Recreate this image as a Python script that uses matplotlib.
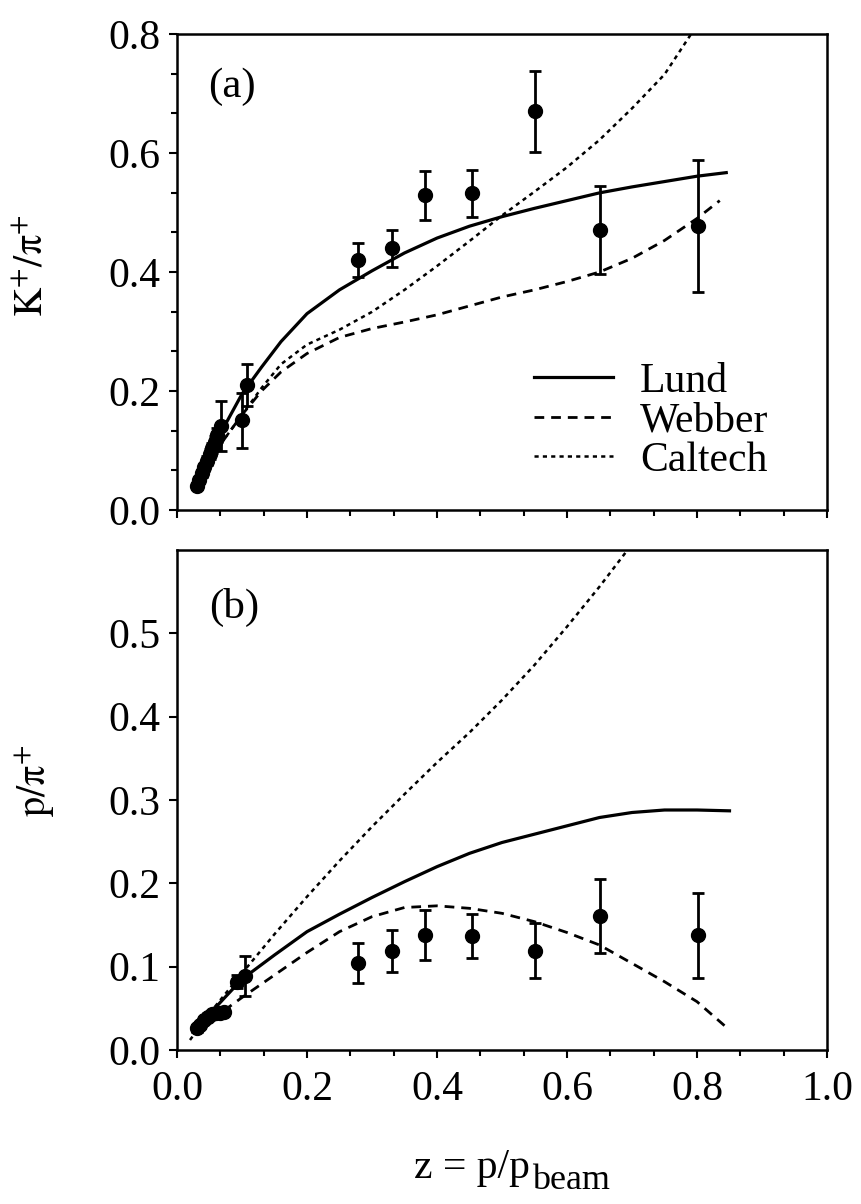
import matplotlib
matplotlib.use("Agg")
import matplotlib.pyplot as plt
from matplotlib.ticker import FixedLocator
import numpy as np

plt.rcParams['font.family'] = ['Liberation Serif', 'DejaVu Serif']
plt.rcParams['mathtext.fontset'] = 'stix'
plt.rcParams['lines.scale_dashes'] = False

# ---------------- Panel (a): K+/pi+ ----------------
ka_z = [0.030, 0.034, 0.038, 0.042, 0.046, 0.050, 0.054, 0.058, 0.062, 0.067,
        0.0995, 0.108, 0.278, 0.330, 0.381, 0.454, 0.550, 0.650, 0.801]
ka_ratio = [0.040, 0.050, 0.062, 0.072, 0.083, 0.094, 0.104, 0.114, 0.126, 0.142,
            0.151, 0.210, 0.420, 0.440, 0.529, 0.532, 0.670, 0.471, 0.478]
ka_err = [0.005, 0.005, 0.006, 0.006, 0.007, 0.008, 0.009, 0.010, 0.012, 0.042,
          0.046, 0.035, 0.028, 0.031, 0.041, 0.039, 0.068, 0.074, 0.111]

ka_lund_z = [0.03, 0.05, 0.07, 0.10, 0.13, 0.16, 0.20, 0.25, 0.30, 0.35, 0.40,
             0.45, 0.50, 0.55, 0.60, 0.65, 0.70, 0.75, 0.80, 0.845]
ka_lund = [0.040, 0.085, 0.135, 0.195, 0.240, 0.283, 0.330, 0.370, 0.402, 0.432,
           0.457, 0.477, 0.493, 0.507, 0.520, 0.533, 0.543, 0.552, 0.561, 0.567]

ka_webber_z = [0.03, 0.05, 0.07, 0.10, 0.13, 0.16, 0.20, 0.25, 0.30, 0.35, 0.40,
               0.45, 0.50, 0.55, 0.60, 0.65, 0.70, 0.75, 0.80, 0.835]
ka_webber = [0.040, 0.080, 0.115, 0.160, 0.200, 0.232, 0.263, 0.290, 0.305, 0.316,
             0.328, 0.343, 0.358, 0.370, 0.384, 0.400, 0.423, 0.453, 0.490, 0.520]

ka_caltech_z = [0.03, 0.05, 0.07, 0.10, 0.13, 0.16, 0.20, 0.25, 0.30, 0.35, 0.40,
                0.45, 0.50, 0.55, 0.60, 0.65, 0.70, 0.75, 0.80]
ka_caltech = [0.040, 0.080, 0.115, 0.160, 0.205, 0.245, 0.278, 0.303, 0.333, 0.370,
              0.410, 0.452, 0.495, 0.535, 0.576, 0.622, 0.675, 0.732, 0.815]

# ---------------- Panel (b): p/pi+ ----------------
pb_z = [0.030, 0.036, 0.042, 0.048, 0.054, 0.060, 0.066, 0.072, 0.093, 0.104,
        0.278, 0.330, 0.381, 0.454, 0.550, 0.650, 0.801]
pb_ratio = [0.026, 0.030, 0.036, 0.040, 0.043, 0.044, 0.045, 0.046, 0.082, 0.089,
            0.105, 0.119, 0.138, 0.137, 0.119, 0.161, 0.138]
pb_err = [0.004, 0.004, 0.004, 0.004, 0.004, 0.004, 0.004, 0.004, 0.008, 0.024,
          0.024, 0.025, 0.030, 0.026, 0.033, 0.044, 0.051]

pb_lund_z = [0.03, 0.05, 0.07, 0.10, 0.15, 0.20, 0.25, 0.30, 0.35, 0.40, 0.45,
             0.50, 0.55, 0.60, 0.65, 0.70, 0.75, 0.80, 0.85]
pb_lund = [0.028, 0.043, 0.060, 0.085, 0.114, 0.142, 0.163, 0.183, 0.202, 0.220,
           0.236, 0.249, 0.259, 0.269, 0.279, 0.285, 0.288, 0.288, 0.287]

pb_webber_z = [0.03, 0.05, 0.07, 0.10, 0.15, 0.20, 0.25, 0.30, 0.35, 0.40, 0.45,
               0.50, 0.55, 0.60, 0.65, 0.70, 0.75, 0.80, 0.85]
pb_webber = [0.024, 0.035, 0.046, 0.063, 0.090, 0.117, 0.142, 0.160, 0.171, 0.173,
             0.170, 0.164, 0.154, 0.141, 0.126, 0.104, 0.082, 0.058, 0.024]

pb_caltech_z = [0.02, 0.05, 0.10, 0.15, 0.20, 0.25, 0.30, 0.35, 0.40, 0.45, 0.50,
                0.55, 0.60, 0.65, 0.70]
pb_caltech = [0.012, 0.044, 0.092, 0.139, 0.184, 0.227, 0.268, 0.307, 0.345, 0.381,
              0.420, 0.462, 0.508, 0.556, 0.607]

legend_labels = ["Lund", "Webber", "Caltech"]

# ---------------- Figure ----------------
W, H = 861, 1204
fig = plt.figure(figsize=(W / 100, H / 100), dpi=100)
ax1 = fig.add_axes([177 / W, 1 - 510 / H, 650 / W, 476 / H])
ax2 = fig.add_axes([177 / W, 1 - 1050 / H, 650 / W, 500 / H])

styles = dict(
    lund=dict(color='black', lw=2.3, ls='-'),
    webber=dict(color='black', lw=2.0, ls=(0, (7, 5))),
    caltech=dict(color='black', lw=1.8, ls=(0, (3, 3))),
)
eb_kw = dict(fmt='o', color='black', ms=10, capsize=4, elinewidth=2, capthick=2, zorder=5)

# Panel (a)
l1, = ax1.plot(ka_lund_z, ka_lund, label=legend_labels[0], **styles['lund'])
l2, = ax1.plot(ka_webber_z, ka_webber, label=legend_labels[1], **styles['webber'])
l3, = ax1.plot(ka_caltech_z, ka_caltech, label=legend_labels[2], **styles['caltech'])
ax1.errorbar(ka_z, ka_ratio, yerr=ka_err, **eb_kw)

# Panel (b)
ax2.plot(pb_lund_z, pb_lund, **styles['lund'])
ax2.plot(pb_webber_z, pb_webber, **styles['webber'])
ax2.plot(pb_caltech_z, pb_caltech, **styles['caltech'])
ax2.errorbar(pb_z, pb_ratio, yerr=pb_err, **eb_kw)

ax1.set_xlim(0, 1.0)
ax1.set_ylim(0, 0.8)
ax2.set_xlim(0, 1.0)
ax2.set_ylim(0, 0.6)

xmajor = [0.0, 0.2, 0.4, 0.6, 0.8, 1.0]
xminor = list(np.linspace(0, 1, 16))
for ax in (ax1, ax2):
    ax.xaxis.set_major_locator(FixedLocator(xmajor))
    ax.xaxis.set_minor_locator(FixedLocator(xminor))
    ax.tick_params(which='both', direction='out', width=1.5, labelsize=30)
    ax.tick_params(which='major', length=6)
    ax.tick_params(which='minor', length=4)
    ax.tick_params(axis='y', pad=6)
    ax.tick_params(axis='x', pad=9)
    for sp in ax.spines.values():
        sp.set_linewidth(1.8)

ax1.yaxis.set_major_locator(FixedLocator([0.0, 0.2, 0.4, 0.6, 0.8]))
ax1.yaxis.set_minor_locator(FixedLocator(list(np.linspace(0, 0.8, 13))))
ax1.set_yticklabels(['0.0', '0.2', '0.4', '0.6', '0.8'])
ax1.tick_params(labelbottom=False)

ax2.yaxis.set_major_locator(FixedLocator([0.0, 0.1, 0.2, 0.3, 0.4, 0.5]))
ax2.set_yticklabels(['0.0', '0.1', '0.2', '0.3', '0.4', '0.5'])
ax2.set_xticklabels(['0.0', '0.2', '0.4', '0.6', '0.8', '1.0'])

# y labels
ax1.set_ylabel(r'$\mathrm{K^{+}/\pi^{+}}$', fontsize=29)
ax1.yaxis.set_label_coords((33 - 177) / 650, 0.513)
ax1.yaxis.label.set_verticalalignment('center')
ax2.set_ylabel(r'$\mathrm{p/\pi^{+}}$', fontsize=29)
ax2.yaxis.set_label_coords((35 - 177) / 650, 0.538)
ax2.yaxis.label.set_verticalalignment('center')

# panel labels
ax1.text(0.085, 0.89, '(a)', transform=ax1.transAxes, fontsize=31, ha='center', va='center')
ax2.text(0.088, 0.886, '(b)', transform=ax2.transAxes, fontsize=31, ha='center', va='center')

# legend
ax1.legend(handles=[l1, l2, l3], loc='upper left', bbox_to_anchor=(0.549, 0.31),
           frameon=False, fontsize=30, handlelength=1.9, handletextpad=0.65,
           labelspacing=0.02, borderpad=0, borderaxespad=0)

# x label
fig.text(530 / W, 1 - 1178 / H, 'z = p/p', fontsize=30, ha='right', va='baseline')
fig.text(532 / W, 1 - 1189 / H, 'beam', fontsize=26, ha='left', va='baseline')

fig.savefig('out.png', dpi=100)
